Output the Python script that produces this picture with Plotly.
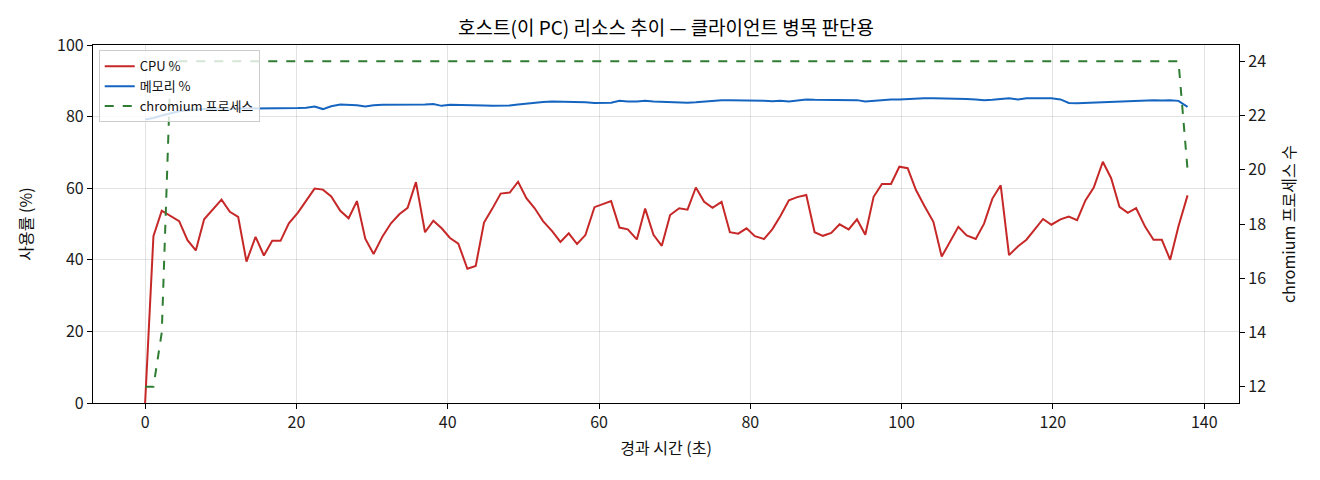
import plotly.graph_objects as go

# 경과 시간 (초)
elapsed = [
    0.0, 1.1, 2.2, 3.4, 4.5, 5.6, 6.7, 7.8, 9.0, 10.1,
    11.2, 12.3, 13.4, 14.6, 15.7, 16.8, 17.9, 19.0, 20.2, 21.3,
    22.4, 23.5, 24.6, 25.8, 26.9, 28.0, 29.1, 30.2, 31.4, 32.5,
    33.6, 34.7, 35.8, 37.0, 38.1, 39.2, 40.3, 41.4, 42.6, 43.7,
    44.8, 45.9, 47.0, 48.2, 49.3, 50.4, 51.5, 52.6, 53.8, 54.9,
    56.0, 57.1, 58.2, 59.4, 60.5, 61.6, 62.7, 63.8, 65.0, 66.1,
    67.2, 68.3, 69.4, 70.6, 71.7, 72.8, 73.9, 75.0, 76.2, 77.3,
    78.4, 79.5, 80.6, 81.8, 82.9, 84.0, 85.1, 86.2, 87.4, 88.5,
    89.6, 90.7, 91.8, 93.0, 94.1, 95.2, 96.3, 97.4, 98.6, 99.7,
    100.8, 101.9, 103.0, 104.2, 105.3, 106.4, 107.5, 108.6, 109.8, 110.9,
    112.0, 113.1, 114.2, 115.4, 116.5, 117.6, 118.7, 119.8, 121.0, 122.1,
    123.2, 124.3, 125.4, 126.6, 127.7, 128.8, 129.9, 131.0, 132.2, 133.3,
    134.4, 135.5, 136.6, 137.8,
]

cpu_pct = [
    0.0, 46.6, 53.7, 52.3, 50.8, 45.5, 42.6, 51.3, 54.2, 56.8,
    53.4, 52.0, 39.5, 46.4, 41.2, 45.3, 45.3, 50.2, 53.2, 56.6,
    59.9, 59.6, 57.7, 53.7, 51.6, 56.4, 45.9, 41.6, 46.6, 50.2,
    52.7, 54.5, 61.7, 47.7, 50.9, 48.8, 46.1, 44.5, 37.5, 38.3,
    50.4, 54.3, 58.5, 58.8, 61.8, 57.2, 54.4, 50.8, 48.0, 45.0,
    47.4, 44.4, 46.9, 54.7, 55.5, 56.4, 49.0, 48.5, 45.7, 54.3,
    47.0, 43.9, 52.5, 54.4, 54.0, 60.2, 56.2, 54.5, 56.2, 47.7,
    47.3, 48.8, 46.6, 45.8, 48.5, 52.3, 56.6, 57.5, 58.1, 47.7,
    46.7, 47.5, 49.9, 48.5, 51.3, 47.0, 57.6, 61.2, 61.2, 66.0,
    65.6, 59.5, 55.1, 50.6, 40.9, 45.2, 49.2, 46.8, 45.8, 50.1,
    57.1, 60.8, 41.3, 43.8, 45.6, 48.5, 51.4, 49.8, 51.3, 52.1,
    51.1, 56.6, 60.2, 67.4, 62.8, 54.8, 53.1, 54.4, 49.2, 45.6,
    45.6, 40.0, 49.4, 58.0,
]

mem_pct = [
    79.2, 79.6, 80.3, 81.0, 81.5, 81.8, 82.0, 82.1, 82.2, 82.2,
    82.2, 82.3, 82.2, 82.2, 82.2, 82.3, 82.3, 82.3, 82.4, 82.5,
    82.8, 82.1, 82.9, 83.4, 83.3, 83.2, 82.8, 83.2, 83.3, 83.3,
    83.3, 83.2, 83.4, 83.4, 83.5, 83.0, 83.3, 83.3, 83.3, 83.2,
    83.1, 83.0, 83.0, 83.1, 83.4, 83.7, 83.9, 84.1, 84.2, 84.2,
    84.1, 84.1, 84.0, 83.8, 83.8, 83.9, 84.4, 84.2, 84.2, 84.4,
    84.2, 84.1, 84.0, 83.9, 83.9, 84.0, 84.2, 84.4, 84.6, 84.6,
    84.6, 84.5, 84.5, 84.4, 84.3, 84.4, 84.2, 84.5, 84.8, 84.7,
    84.7, 84.6, 84.6, 84.7, 84.6, 84.2, 84.4, 84.6, 84.8, 84.8,
    84.9, 85.1, 85.1, 85.1, 85.1, 85.0, 85.0, 84.9, 84.8, 84.6,
    84.7, 85.0, 85.1, 84.8, 85.1, 85.1, 85.1, 85.1, 84.8, 83.8,
    83.7, 83.8, 83.9, 84.1, 84.3, 84.4, 84.5, 84.5, 84.5, 84.6,
    84.5, 84.6, 84.4, 82.7,
]

chromium_procs = [12, 12, 14] + [24] * 120 + [20]

x_ticks = [0, 20, 40, 60, 80, 100, 120, 140]
y_ticks = [0, 20, 40, 60, 80, 100]
y2_ticks = [12, 14, 16, 18, 20, 22, 24]

FONT = "Noto Sans CJK KR, Noto Sans, DejaVu Sans, sans-serif"

fig = go.Figure()
fig.add_trace(go.Scatter(x=elapsed, y=cpu_pct, name="CPU %", mode="lines",
                         line=dict(color="#c62828", width=2)))
fig.add_trace(go.Scatter(x=elapsed, y=mem_pct, name="메모리 %", mode="lines",
                         line=dict(color="#1565c0", width=2)))
fig.add_trace(go.Scatter(x=elapsed, y=chromium_procs, name="chromium 프로세스", mode="lines",
                         yaxis="y2", line=dict(color="#2e7d32", width=2, dash="dash")))

axis_common = dict(showline=True, linecolor="black", linewidth=1.2,
                   ticks="outside", ticklen=5, tickcolor="black",
                   tickfont=dict(size=16, color="#1a1a1a"), zeroline=False)

# 페이지 body 여백(8px) 만큼 보정
fig.update_layout(
    width=1312, height=472,
    margin=dict(l=85, r=81, t=37, b=77),
    paper_bgcolor="white", plot_bgcolor="white",
    font=dict(family=FONT, color="#111"),
    title=dict(text="호스트(이 PC) 리소스 추이 — 클라이언트 병목 판단용",
               x=0.5, xref="paper", y=0.956, yanchor="middle",
               font=dict(size=19, color="black")),
    xaxis=dict(range=[-6.89, 144.6], tickvals=x_ticks, mirror=True,
               showgrid=True, gridcolor="rgba(0,0,0,0.11)", gridwidth=1,
               title=dict(text="경과 시간 (초)", font=dict(size=16), standoff=10),
               **axis_common),
    yaxis=dict(range=[0, 100], tickvals=y_ticks, mirror=True,
               showgrid=True, gridcolor="rgba(0,0,0,0.11)", gridwidth=1,
               title=dict(text="사용률 (%)", font=dict(size=16), standoff=20),
               **axis_common),
    yaxis2=dict(range=[11.4, 24.6], tickvals=y2_ticks, overlaying="y", side="right",
                showgrid=False,
                title=dict(text="chromium 프로세스 수", font=dict(size=16), standoff=18),
                **axis_common),
    legend=dict(x=0.005, y=0.985, xanchor="left", yanchor="top",
                bgcolor="rgba(255,255,255,0.8)", bordercolor="#cccccc", borderwidth=1,
                font=dict(size=13), tracegroupgap=0, itemwidth=30),
    showlegend=True,
)

fig.write_html("out.html")
